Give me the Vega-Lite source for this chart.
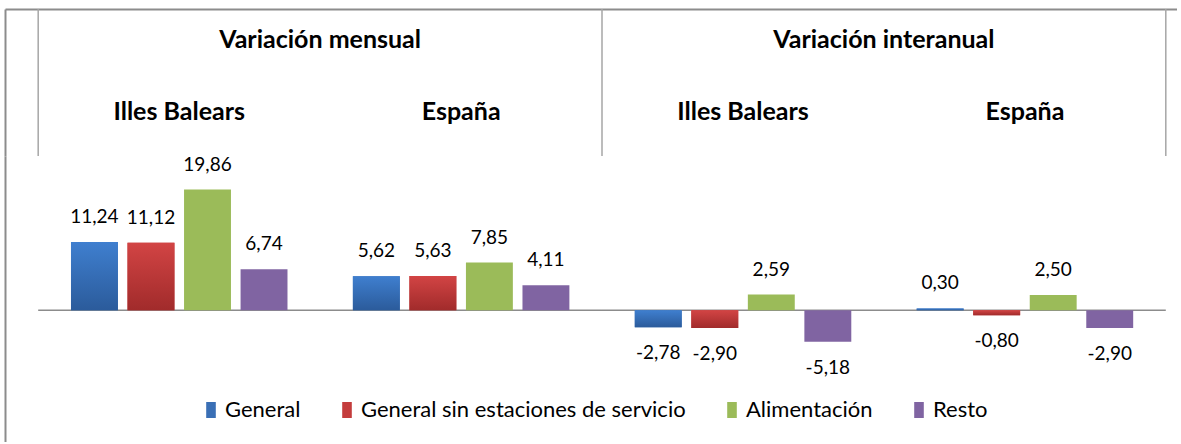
{
  "$schema": "https://vega.github.io/schema/vega-lite/v6.json",
  "padding": {"left": 5, "top": 8, "right": 0, "bottom": 0},
  "background": "white",
  "bounds": "flush",
  "spacing": 0,
  "config": {
    "view": {"stroke": null},
    "font": "Lato",
    "locale": {"number": {"decimal": ",", "thousands": ".", "grouping": [3], "currency": ["", " €"], "minus": "-"}}
  },
  "data": {"values": [
    {"periodo": "Variación mensual", "zona": "Illes Balears", "grupo": "m-IB", "serie": "General", "valor": 11.24},
    {"periodo": "Variación mensual", "zona": "Illes Balears", "grupo": "m-IB", "serie": "General sin estaciones de servicio", "valor": 11.12},
    {"periodo": "Variación mensual", "zona": "Illes Balears", "grupo": "m-IB", "serie": "Alimentación", "valor": 19.86},
    {"periodo": "Variación mensual", "zona": "Illes Balears", "grupo": "m-IB", "serie": "Resto", "valor": 6.74},
    {"periodo": "Variación mensual", "zona": "España", "grupo": "m-ES", "serie": "General", "valor": 5.62},
    {"periodo": "Variación mensual", "zona": "España", "grupo": "m-ES", "serie": "General sin estaciones de servicio", "valor": 5.63},
    {"periodo": "Variación mensual", "zona": "España", "grupo": "m-ES", "serie": "Alimentación", "valor": 7.85},
    {"periodo": "Variación mensual", "zona": "España", "grupo": "m-ES", "serie": "Resto", "valor": 4.11},
    {"periodo": "Variación interanual", "zona": "Illes Balears", "grupo": "i-IB", "serie": "General", "valor": -2.78},
    {"periodo": "Variación interanual", "zona": "Illes Balears", "grupo": "i-IB", "serie": "General sin estaciones de servicio", "valor": -2.90},
    {"periodo": "Variación interanual", "zona": "Illes Balears", "grupo": "i-IB", "serie": "Alimentación", "valor": 2.59},
    {"periodo": "Variación interanual", "zona": "Illes Balears", "grupo": "i-IB", "serie": "Resto", "valor": -5.18},
    {"periodo": "Variación interanual", "zona": "España", "grupo": "i-ES", "serie": "General", "valor": 0.30},
    {"periodo": "Variación interanual", "zona": "España", "grupo": "i-ES", "serie": "General sin estaciones de servicio", "valor": -0.80},
    {"periodo": "Variación interanual", "zona": "España", "grupo": "i-ES", "serie": "Alimentación", "valor": 2.50},
    {"periodo": "Variación interanual", "zona": "España", "grupo": "i-ES", "serie": "Resto", "valor": -2.90}
  ]},
  "vconcat": [
    {
      "width": 1172,
      "height": 147,
      "transform": [{"filter": "datum.serie === 'General'"}],
      "layer": [
        {
          "transform": [{"filter": "datum.zona === 'Illes Balears'"}],
          "mark": {"type": "rule", "color": "#a6a6a6", "strokeWidth": 1.5},
          "encoding": {
            "x": {"field": "periodo", "type": "nominal", "bandPosition": 0,
                  "scale": {"type": "band", "domain": ["Variación mensual", "Variación interanual"], "paddingInner": 0, "paddingOuter": 0.03937, "align": 0.7477, "round": false},
                  "axis": null}
          }
        },
        {
          "transform": [{"filter": "datum.zona === 'Illes Balears' && datum.periodo === 'Variación interanual'"}],
          "mark": {"type": "rule", "color": "#a6a6a6", "strokeWidth": 1.5},
          "encoding": {
            "x": {"field": "periodo", "type": "nominal", "bandPosition": 1,
                  "scale": {"type": "band", "domain": ["Variación mensual", "Variación interanual"], "paddingInner": 0, "paddingOuter": 0.03937, "align": 0.7477, "round": false},
                  "axis": null}
          }
        },
        {
          "transform": [{"filter": "datum.zona === 'Illes Balears'"}],
          "mark": {"type": "text", "font": "Lato", "fontSize": 25, "fontWeight": "bold", "color": "#000000", "baseline": "middle"},
          "encoding": {
            "x": {"field": "periodo", "type": "nominal",
                  "scale": {"type": "band", "domain": ["Variación mensual", "Variación interanual"], "paddingInner": 0, "paddingOuter": 0.03937, "align": 0.7477, "round": false},
                  "axis": {"orient": "top", "domain": true, "domainColor": "#8c8c8c", "domainWidth": 2, "labels": false, "ticks": false, "grid": false, "title": null}},
            "y": {"datum": "titulo", "type": "nominal",
                  "scale": {"type": "point", "domain": ["titulo", "zona"], "padding": 0.5208, "align": 0.413},
                  "axis": {"domain": true, "domainColor": "#8c8c8c", "domainWidth": 2, "labels": false, "ticks": false, "grid": false, "title": null}},
            "text": {"field": "periodo"}
          }
        },
        {
          "mark": {"type": "text", "font": "Lato", "fontSize": 25, "fontWeight": "bold", "color": "#000000", "baseline": "middle"},
          "encoding": {
            "x": {"field": "grupo", "type": "nominal",
                  "scale": {"type": "band", "domain": ["m-IB", "m-ES", "i-IB", "i-ES"], "paddingInner": 0.232, "paddingOuter": 0.19475, "align": 0.601, "round": false},
                  "axis": null},
            "y": {"datum": "zona", "type": "nominal",
                  "scale": {"type": "point", "domain": ["titulo", "zona"], "padding": 0.5208, "align": 0.413},
                  "axis": {"domain": true, "domainColor": "#8c8c8c", "domainWidth": 2, "labels": false, "ticks": false, "grid": false, "title": null}},
            "text": {"field": "zona"}
          }
        }
      ],
      "resolve": {"scale": {"x": "independent"}}
    },
    {
      "width": 1172,
      "height": 286,
      "layer": [
        {
          "transform": [{"filter": "datum.serie === 'General' && datum.zona === 'Illes Balears'"}],
          "mark": {"type": "rect", "fillOpacity": 0, "stroke": "#8c8c8c", "strokeWidth": 1.5},
          "encoding": {
            "x": {"field": "periodo", "type": "nominal",
                  "scale": {"type": "band", "domain": ["Variación mensual", "Variación interanual"], "paddingInner": 0, "paddingOuter": 0.03937, "align": 0.7477, "round": false},
                  "axis": null},
            "y": {"datum": 0, "type": "quantitative",
                  "scale": {"domain": [-21.66, 25.38], "nice": false, "zero": false},
                  "axis": {"domain": true, "domainColor": "#8c8c8c", "domainWidth": 2, "labels": false, "ticks": false, "grid": false, "title": null}},
            "y2": {"datum": 0}
          }
        },
        {
          "mark": {"type": "bar"},
          "encoding": {
            "x": {"field": "grupo", "type": "nominal",
                  "scale": {"type": "band", "domain": ["m-IB", "m-ES", "i-IB", "i-ES"], "paddingInner": 0.232, "paddingOuter": 0.19475, "align": 0.601, "round": false},
                  "axis": null},
            "xOffset": {"field": "serie", "type": "nominal",
                  "scale": {"domain": ["General", "General sin estaciones de servicio", "Alimentación", "Resto"], "paddingInner": 0.17, "paddingOuter": 0}},
            "y": {"field": "valor", "type": "quantitative",
                  "scale": {"domain": [-21.66, 25.38], "nice": false, "zero": false},
                  "axis": {"domain": true, "domainColor": "#8c8c8c", "domainWidth": 2, "labels": false, "ticks": false, "grid": false, "title": null}},
            "color": {"field": "serie", "type": "nominal",
                  "scale": {"domain": ["General", "General sin estaciones de servicio", "Alimentación", "Resto"], "range": ["#3a6fb5", "#c43c3c", "#9bbb59", "#8064a2"]},
                  "legend": {"orient": "none", "direction": "horizontal", "legendX": 195, "legendY": 390, "title": null, "padding": 0,
                             "labelFont": "Lato", "labelFontSize": 22, "labelColor": "#000000", "labelOffset": 3, "columnPadding": 35, "labelLimit": 0,
                             "symbolType": "M-0.6,-1H0.6V1H-0.6Z", "symbolSize": 256, "symbolStrokeWidth": 0}}
          }
        },
        {
          "transform": [{"filter": "datum.serie === 'General'"}],
          "mark": {"type": "bar", "color": {"gradient": "linear", "x1": 0, "y1": 0, "x2": 0, "y2": 1, "stops": [{"offset": 0, "color": "#3f7fcf"}, {"offset": 1, "color": "#2b5b9b"}]}},
          "encoding": {
            "x": {"field": "grupo", "type": "nominal",
                  "scale": {"type": "band", "domain": ["m-IB", "m-ES", "i-IB", "i-ES"], "paddingInner": 0.232, "paddingOuter": 0.19475, "align": 0.601, "round": false},
                  "axis": null},
            "xOffset": {"field": "serie", "type": "nominal",
                  "scale": {"domain": ["General", "General sin estaciones de servicio", "Alimentación", "Resto"], "paddingInner": 0.17, "paddingOuter": 0}},
            "y": {"field": "valor", "type": "quantitative",
                  "scale": {"domain": [-21.66, 25.38], "nice": false, "zero": false},
                  "axis": {"domain": true, "domainColor": "#8c8c8c", "domainWidth": 2, "labels": false, "ticks": false, "grid": false, "title": null}}
          }
        },
        {
          "transform": [{"filter": "datum.serie === 'General sin estaciones de servicio'"}],
          "mark": {"type": "bar", "color": {"gradient": "linear", "x1": 0, "y1": 0, "x2": 0, "y2": 1, "stops": [{"offset": 0, "color": "#d24444"}, {"offset": 1, "color": "#a12b2b"}]}},
          "encoding": {
            "x": {"field": "grupo", "type": "nominal",
                  "scale": {"type": "band", "domain": ["m-IB", "m-ES", "i-IB", "i-ES"], "paddingInner": 0.232, "paddingOuter": 0.19475, "align": 0.601, "round": false},
                  "axis": null},
            "xOffset": {"field": "serie", "type": "nominal",
                  "scale": {"domain": ["General", "General sin estaciones de servicio", "Alimentación", "Resto"], "paddingInner": 0.17, "paddingOuter": 0}},
            "y": {"field": "valor", "type": "quantitative",
                  "scale": {"domain": [-21.66, 25.38], "nice": false, "zero": false},
                  "axis": {"domain": true, "domainColor": "#8c8c8c", "domainWidth": 2, "labels": false, "ticks": false, "grid": false, "title": null}}
          }
        },
        {
          "transform": [{"filter": "datum.valor >= 0"}],
          "mark": {"type": "text", "font": "Lato", "fontSize": 19, "color": "#000000", "baseline": "middle", "dy": -25},
          "encoding": {
            "x": {"field": "grupo", "type": "nominal",
                  "scale": {"type": "band", "domain": ["m-IB", "m-ES", "i-IB", "i-ES"], "paddingInner": 0.232, "paddingOuter": 0.19475, "align": 0.601, "round": false},
                  "axis": null},
            "xOffset": {"field": "serie", "type": "nominal",
                  "scale": {"domain": ["General", "General sin estaciones de servicio", "Alimentación", "Resto"], "paddingInner": 0.17, "paddingOuter": 0}},
            "y": {"field": "valor", "type": "quantitative",
                  "scale": {"domain": [-21.66, 25.38], "nice": false, "zero": false},
                  "axis": {"domain": true, "domainColor": "#8c8c8c", "domainWidth": 2, "labels": false, "ticks": false, "grid": false, "title": null}},
            "text": {"field": "valor", "type": "quantitative", "format": ".2f"}
          }
        },
        {
          "transform": [{"filter": "datum.valor < 0"}],
          "mark": {"type": "text", "font": "Lato", "fontSize": 19, "color": "#000000", "baseline": "middle", "dy": 26},
          "encoding": {
            "x": {"field": "grupo", "type": "nominal",
                  "scale": {"type": "band", "domain": ["m-IB", "m-ES", "i-IB", "i-ES"], "paddingInner": 0.232, "paddingOuter": 0.19475, "align": 0.601, "round": false},
                  "axis": null},
            "xOffset": {"field": "serie", "type": "nominal",
                  "scale": {"domain": ["General", "General sin estaciones de servicio", "Alimentación", "Resto"], "paddingInner": 0.17, "paddingOuter": 0}},
            "y": {"field": "valor", "type": "quantitative",
                  "scale": {"domain": [-21.66, 25.38], "nice": false, "zero": false},
                  "axis": {"domain": true, "domainColor": "#8c8c8c", "domainWidth": 2, "labels": false, "ticks": false, "grid": false, "title": null}},
            "text": {"field": "valor", "type": "quantitative", "format": ".2f"}
          }
        }
      ],
      "resolve": {"scale": {"x": "independent"}}
    }
  ]
}
